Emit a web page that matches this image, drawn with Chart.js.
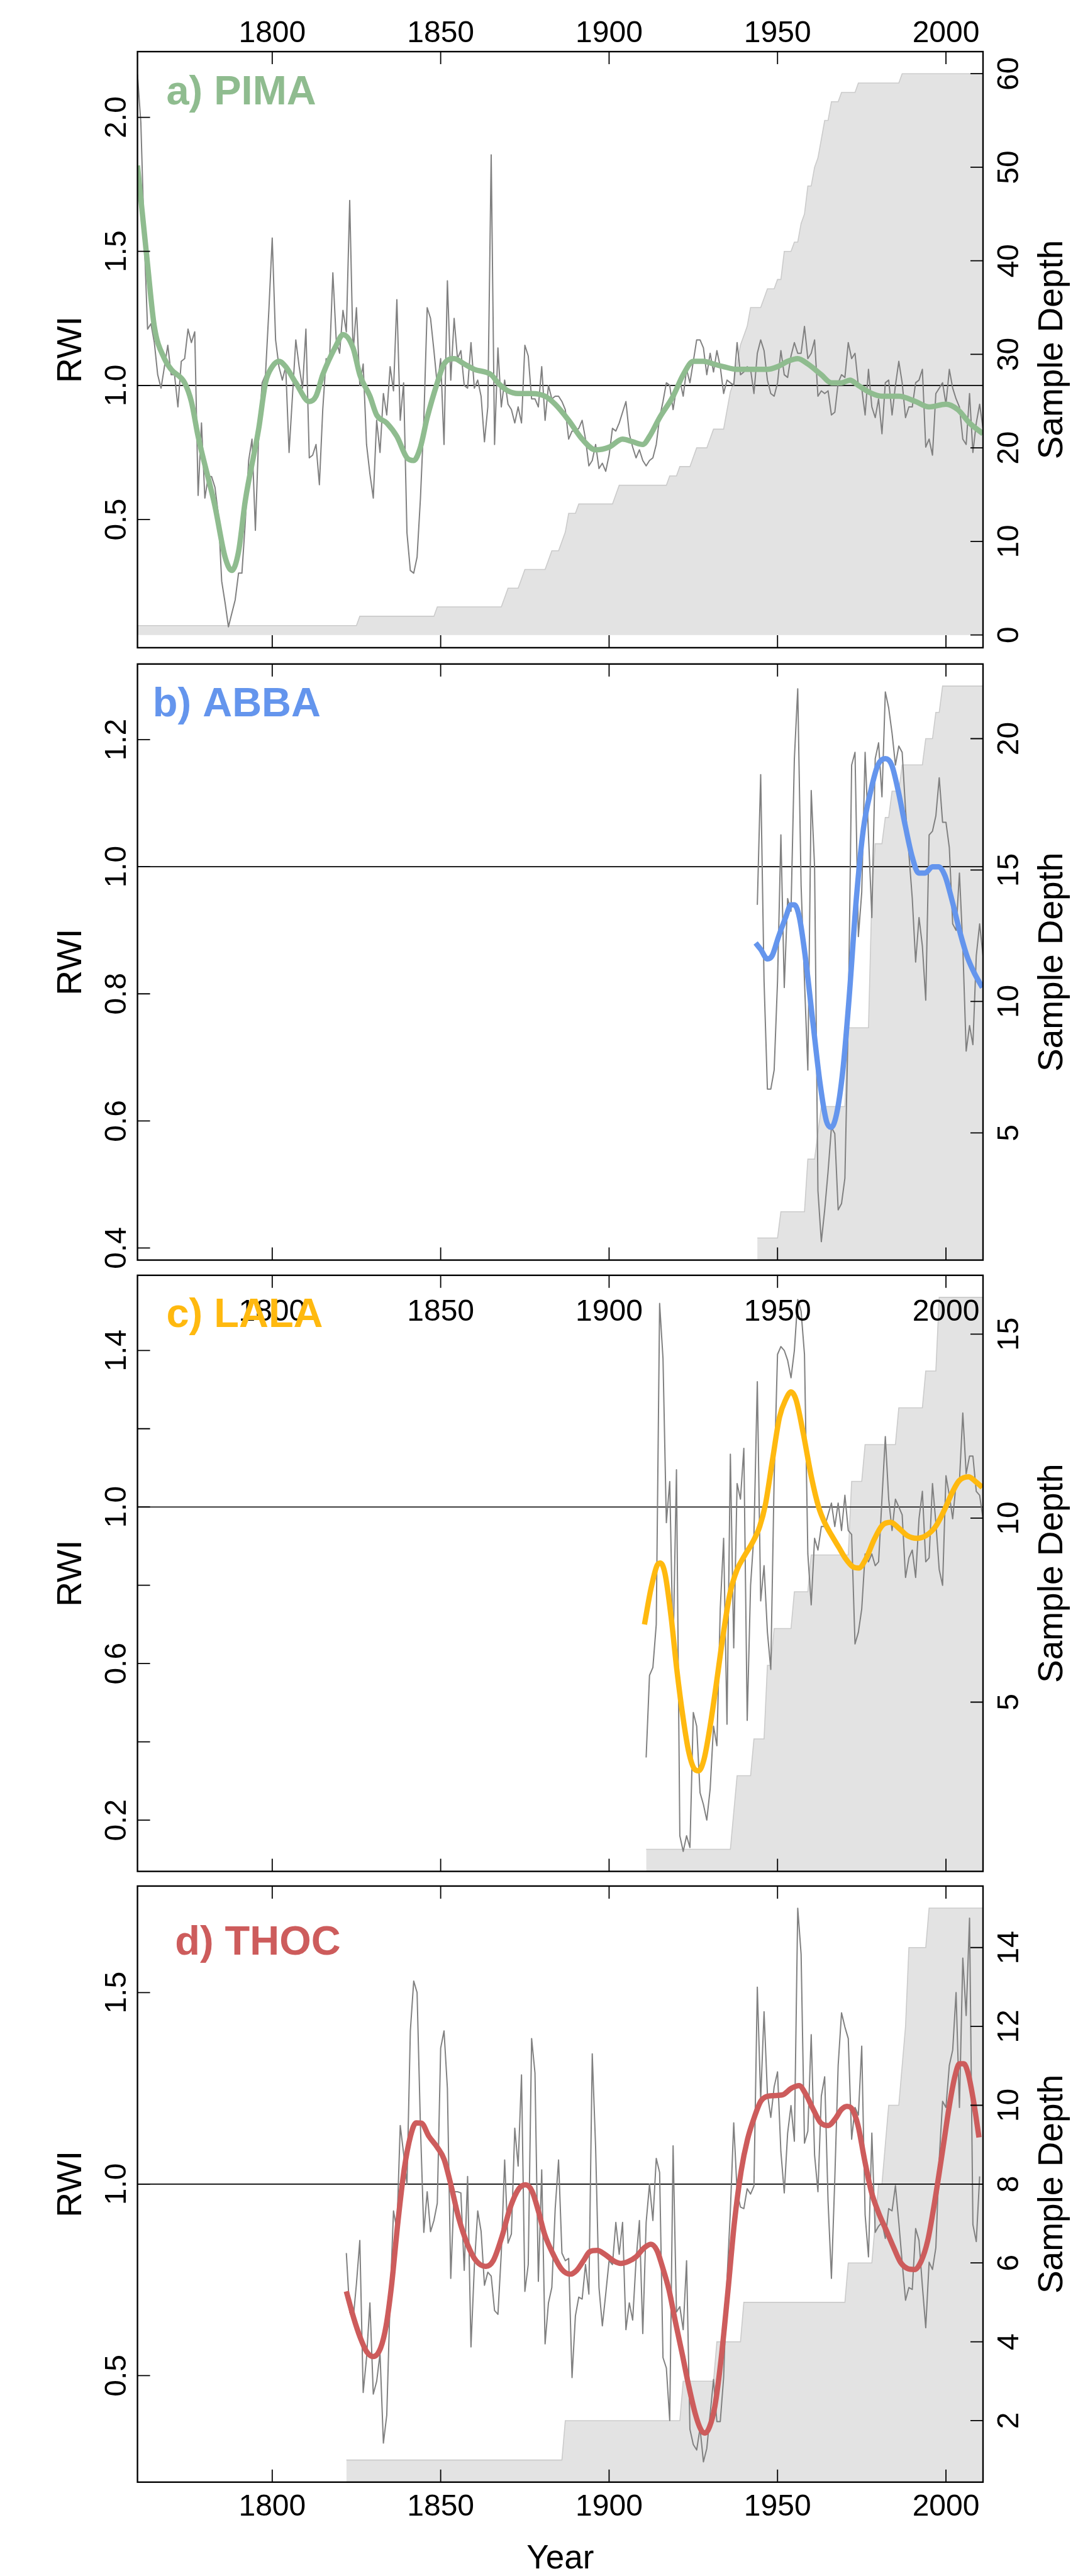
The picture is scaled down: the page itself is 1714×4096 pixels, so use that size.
<!DOCTYPE html>
<html><head><meta charset="utf-8">
<script src="https://cdn.jsdelivr.net/npm/chart.js@4.4.1/dist/chart.umd.min.js"></script>
<style>
html,body{margin:0;padding:0;background:#fff;}
#wrap{position:relative;width:1714px;height:4096px;overflow:hidden;background:#fff;}
#wrap canvas{position:absolute;left:0;}
</style></head>
<body><div id="wrap"></div>
<script>
// ---------------- DATA ----------------
const xTicks = [1800, 1850, 1900, 1950, 2000];
const xTickLabels = ['1800', '1850', '1900', '1950', '2000'];

// a) PIMA
const pimaStart = 1760;
const pimaRaw = [
2.16,1.98,1.55,1.21,1.23,1.16,1.04,0.99,1.07,1.15,
1.04,1.04,0.92,1.09,1.10,1.21,1.16,1.20,0.59,0.86,
0.58,0.66,0.66,0.62,0.52,0.27,0.19,0.10,0.15,0.20,
0.30,0.30,0.49,0.72,0.80,0.46,0.82,1.01,1.04,1.28,
1.55,1.17,1.07,1.02,1.07,0.75,0.96,1.17,1.07,0.99,
1.21,0.73,0.74,0.78,0.63,0.91,1.10,1.09,1.42,1.17,
1.12,1.28,1.20,1.69,1.12,1.29,1.00,1.08,0.78,0.67,
0.58,0.87,0.75,0.97,0.89,1.07,0.98,1.32,0.87,1.01,
0.45,0.31,0.30,0.36,0.58,0.87,1.29,1.25,1.13,1.00,
1.10,0.78,1.39,1.02,1.25,1.10,1.13,1.00,0.99,1.16,
0.99,1.02,0.96,0.79,0.92,1.86,0.78,1.14,0.92,1.02,
0.93,0.91,0.86,0.92,0.86,1.15,1.11,0.95,0.95,0.92,
1.07,0.87,1.00,0.95,0.96,0.96,0.94,0.91,0.80,0.83,
0.83,0.84,0.87,0.80,0.70,0.72,0.78,0.69,0.71,0.68,
0.74,0.84,0.83,0.86,0.90,0.94,0.82,0.77,0.73,0.76,
0.72,0.70,0.72,0.73,0.78,0.88,0.94,1.01,1.00,0.91,
0.99,1.02,0.96,1.06,1.01,1.09,1.17,1.17,1.14,1.04,
1.12,1.05,1.13,1.07,0.97,1.02,1.01,1.00,1.16,1.04,
1.05,1.07,1.06,0.97,1.12,1.17,1.13,1.02,0.97,0.96,
1.01,1.13,1.04,1.03,1.11,1.16,1.12,1.12,1.22,1.10,
1.12,1.17,0.96,0.98,0.97,0.98,0.89,0.90,1.01,1.04,
1.03,1.16,1.10,1.12,1.00,0.99,0.89,1.06,0.92,0.88,
0.95,0.82,1.01,1.02,0.89,1.00,1.09,1.01,0.88,0.92,
0.92,1.01,1.02,1.06,0.77,0.80,0.74,0.97,0.99,1.01,
0.93,1.06,0.99,0.95,0.92,0.80,0.78,0.97,0.75,0.86,
0.93,0.84];
const pimaSmoothYears = [1760,1763,1765,1768,1770,1774,1776,1778,1783,1786,1788,1790,1792,1796,1798,1800,1802,1804,1807,1811,1813,1815,1819,1821,1824,1826,1829,1831,1834,1837,1840,1842,1844,1846,1849,1851,1854,1857,1860,1865,1867,1870,1873,1877,1881,1884,1888,1892,1896,1900,1904,1907,1910,1912,1915,1919,1922,1925,1928,1931,1934,1938,1942,1947,1950,1953,1956,1959,1963,1966,1969,1971.5,1974,1978,1981,1986,1991,1995,2000,2003.5,2007,2011];
const pimaSmoothVals = [1.82,1.45,1.22,1.10,1.06,1.01,0.94,0.81,0.55,0.36,0.31,0.38,0.57,0.84,1.01,1.07,1.09,1.07,1.01,0.94,0.96,1.04,1.15,1.19,1.14,1.04,0.96,0.89,0.86,0.81,0.73,0.72,0.77,0.88,1.01,1.08,1.10,1.08,1.06,1.04,1.01,0.98,0.97,0.97,0.96,0.93,0.87,0.80,0.76,0.77,0.80,0.79,0.78,0.81,0.88,0.96,1.04,1.09,1.09,1.08,1.07,1.06,1.06,1.06,1.07,1.09,1.10,1.08,1.04,1.01,1.01,1.02,1.00,0.97,0.96,0.96,0.94,0.92,0.93,0.91,0.86,0.82];
const pimaDepthYears = [1760,1826,1849,1869,1870,1874,1875,1882,1883,1886,1887,1888,1891,1902,1903,1918,1921,1925,1926,1930,1931,1935,1936,1937,1938,1939,1940,1941,1942,1946,1947,1950,1952,1955,1957,1958,1959,1961,1962,1963,1964,1966,1969,1974,1987];
const pimaDepthVals  = [1,2,3,4,5,6,7,8,9,10,11,13,14,15,16,17,18,19,20,21,22,24,26,27,29,31,32,33,35,36,37,38,41,42,44,45,48,50,51,53,55,57,58,59,60];

// b) ABBA
const abbaStart = 1944;
const abbaRaw = [
0.94,1.145,0.82,0.65,0.65,0.68,0.82,1.05,0.81,0.95,
0.93,1.17,1.28,0.97,0.82,0.68,1.12,1.00,0.49,0.41,
0.46,0.52,0.59,0.58,0.46,0.47,0.51,0.76,1.16,1.18,
0.89,0.96,1.18,1.05,0.92,1.17,1.195,1.11,1.275,1.25,
1.21,1.16,1.19,1.18,1.09,1.02,0.95,0.85,0.92,0.875,
0.79,1.05,1.056,1.08,1.14,1.07,1.07,1.03,0.91,0.90,
0.99,0.875,0.71,0.75,0.72,0.86,0.91,0.86];
const abbaSmoothYears = [1943.5,1945,1947,1948.4,1950.3,1952.4,1954,1955,1956.5,1958.3,1960.5,1962.6,1964.5,1965.9,1967.5,1969.4,1971.2,1973.4,1975.5,1977.7,1979.8,1982,1983.9,1985.8,1987.9,1990,1991.9,1993.8,1996,1997.8,1999.7,2001.9,2004,2006.2,2008.3,2010.8];
const abbaSmoothVals = [0.88,0.87,0.855,0.86,0.89,0.92,0.94,0.94,0.92,0.856,0.755,0.66,0.60,0.59,0.61,0.68,0.79,0.95,1.06,1.12,1.16,1.17,1.16,1.12,1.065,1.015,0.99,0.99,1.0,1.0,0.986,0.945,0.90,0.86,0.834,0.81];
const abbaDepthYears = [1944,1951,1959,1962,1963,1971,1978,1979,1982,1984,1987,1994,1997,1999];
const abbaDepthVals  = [1,2,4,5,6,9,14,16,17,18,19,20,21,22];

// c) LALA
const lalaStart = 1911;
const lalaRaw = [
0.36,0.57,0.59,0.70,1.52,1.38,0.96,1.065,0.63,1.095,
0.16,0.12,0.16,0.13,0.475,0.44,0.27,0.24,0.20,0.28,
0.44,0.39,0.74,0.92,0.445,1.135,0.64,1.06,1.02,1.15,
0.455,0.80,0.93,1.32,0.76,0.85,0.68,0.585,1.075,1.39,
1.41,1.40,1.375,1.33,1.40,1.53,1.50,1.39,0.88,0.75,
0.92,0.89,0.95,0.95,0.98,1.01,0.95,1.01,0.94,1.03,
0.94,0.93,0.65,0.68,0.74,0.88,0.86,0.88,0.85,0.86,
1.02,1.18,1.02,0.94,1.02,1.00,0.98,0.82,0.87,0.89,
0.82,0.97,1.04,0.86,0.87,1.06,0.96,0.84,0.80,1.08,
1.03,0.97,1.06,1.065,1.24,1.085,1.13,1.13,1.04,1.03,
0.97];
const lalaSmoothYears = [1910.5,1912.4,1914.2,1915.2,1916.6,1918.4,1920.1,1921.9,1923.6,1925.4,1926.6,1928.2,1929.9,1931.7,1933.8,1935.9,1938,1940.1,1942.6,1944.7,1946.4,1948.5,1950.6,1952.4,1954,1955.5,1957.6,1960.1,1962.2,1964,1966.1,1968.2,1970.3,1972.4,1974.1,1976.2,1978.7,1981.1,1983.6,1986,1988.5,1991.3,1994.1,1996.9,1999.4,2001.8,2003.9,2006.7,2008.8,2010.8];
const lalaSmoothVals = [0.70,0.79,0.85,0.857,0.83,0.72,0.585,0.465,0.376,0.33,0.326,0.356,0.435,0.54,0.67,0.78,0.84,0.874,0.91,0.95,1.006,1.12,1.23,1.274,1.294,1.274,1.19,1.075,1.0,0.96,0.927,0.897,0.867,0.847,0.844,0.867,0.917,0.953,0.961,0.946,0.927,0.92,0.927,0.95,0.99,1.036,1.067,1.077,1.065,1.05];
const lalaDepthYears = [1911,1937,1938,1943,1947,1949,1955,1960,1972,1976,1986,1994,1998];
const lalaDepthVals  = [1,2,3,4,6,7,8,9,11,12,13,14,16];

// d) THOC
const thocStart = 1822;
const thocRaw = [
0.82,0.666,0.645,0.74,0.853,0.456,0.547,0.69,
0.452,0.485,0.557,0.324,0.397,0.70,0.93,0.88,1.153,1.08,
1.00,1.40,1.53,1.50,1.15,0.874,0.98,0.876,0.905,0.95,
1.355,1.40,1.25,0.754,0.98,0.98,0.977,0.775,1.02,0.575,
0.785,0.93,0.877,0.736,0.77,0.76,0.67,0.66,0.82,1.063,
0.846,0.87,1.146,1.047,1.285,0.72,0.79,1.38,1.29,0.746,
1.037,0.583,0.69,0.73,0.936,1.063,0.82,0.80,0.806,0.495,
0.656,0.705,0.70,0.79,0.713,1.34,1.096,0.73,0.63,0.713,
0.80,0.79,0.90,0.817,0.90,0.62,0.69,0.645,0.80,0.905,
0.61,0.90,1.0,0.905,1.067,1.03,0.547,0.52,0.383,1.10,
0.666,0.68,0.62,0.80,0.36,0.32,0.306,0.363,0.275,0.31,
0.40,0.49,0.38,0.38,0.495,0.75,0.93,1.16,0.98,0.94,
0.936,0.988,0.974,0.995,1.514,1.22,1.45,1.236,1.174,1.254,
1.293,1.084,0.977,1.133,1.205,1.112,1.72,1.60,1.107,1.138,
1.39,1.076,0.98,1.23,1.28,0.956,0.754,1.013,1.31,1.447,
1.41,1.38,1.117,1.20,1.18,1.36,0.92,0.81,1.133,0.874,
0.89,0.90,0.858,0.936,0.93,0.996,0.90,0.796,0.697,0.73,
0.725,0.884,0.853,0.734,0.625,0.796,0.777,0.834,1.065,1.216,
1.20,1.31,1.35,1.50,1.20,1.59,1.44,1.694,0.894,0.85,
1.02];
const thocSmoothYears = [1822,1824.2,1826.1,1828,1830,1832.2,1833.8,1835.4,1837.3,1839.2,1841.1,1842.7,1844.3,1846.5,1849,1851,1852.9,1855.4,1858,1860.5,1863.4,1865.6,1868.2,1870.7,1873.2,1875.2,1877.1,1879,1880.9,1883.4,1886,1888.5,1890.4,1892.4,1894.3,1896.5,1898.7,1901.3,1903.5,1905.7,1908,1910.2,1912.4,1914.2,1915.8,1917.8,1919.7,1921.7,1923.6,1925.6,1927.2,1928.5,1929.8,1931.4,1933.3,1935.3,1937.2,1939.2,1941.1,1943.1,1945,1946.6,1948.9,1951.5,1954.1,1956.4,1958.3,1960.6,1962.8,1965.1,1967.1,1969,1970.6,1972.2,1973.9,1975.8,1977.8,1980,1982.3,1984.6,1986.5,1988.5,1990.7,1992.7,1994.6,1996.2,1997.9,1999.5,2001.1,2002.7,2004,2005.3,2006.6,2008.2,2009.8];
const thocSmoothVals = [0.72,0.65,0.60,0.563,0.55,0.573,0.63,0.734,0.90,1.04,1.127,1.16,1.159,1.125,1.096,1.065,1.003,0.91,0.842,0.80,0.785,0.80,0.863,0.94,0.988,0.998,0.982,0.93,0.868,0.817,0.777,0.765,0.775,0.80,0.824,0.827,0.817,0.80,0.793,0.798,0.81,0.832,0.843,0.827,0.785,0.723,0.64,0.557,0.475,0.40,0.36,0.35,0.366,0.42,0.547,0.723,0.90,1.034,1.117,1.174,1.216,1.228,1.231,1.233,1.25,1.257,1.236,1.195,1.16,1.153,1.17,1.195,1.203,1.195,1.153,1.065,0.982,0.925,0.879,0.832,0.796,0.78,0.777,0.80,0.853,0.93,1.024,1.117,1.21,1.283,1.314,1.314,1.288,1.216,1.122];
const thocDepthYears = [1822,1887,1922,1932,1940,1971,1979,1980,1982,1983,1987,1988,1989,1995];
const thocDepthVals  = [1,2,3,4,5,6,7,8,9,10,11,12,14,15];

const depthEndYear = 2011;

// axis ticks / labels
const pimaRwiTicks = [0.5,1.0,1.5,2.0];   const pimaRwiLabels = ['0.5','1.0','1.5','2.0'];
const pimaDepthTicks = [0,10,20,30,40,50,60]; const pimaDepthLabels = ['0','10','20','30','40','50','60'];
const abbaRwiTicks = [0.4,0.6,0.8,1.0,1.2]; const abbaRwiLabels = ['0.4','0.6','0.8','1.0','1.2'];
const abbaDepthTicks = [5,10,15,20]; const abbaDepthLabels = ['5','10','15','20'];
const lalaRwiTicks = [0.2,0.4,0.6,0.8,1.0,1.2,1.4]; const lalaRwiLabels = ['0.2','','0.6','','1.0','','1.4'];
const lalaDepthTicks = [5,10,15]; const lalaDepthLabels = ['5','10','15'];
const thocRwiTicks = [0.5,1.0,1.5]; const thocRwiLabels = ['0.5','1.0','1.5'];
const thocDepthTicks = [2,4,6,8,10,12,14]; const thocDepthLabels = ['2','4','6','8','10','12','14'];

// ---------------- LAYOUT (reference px, scaled) ----------------
const S = 0.864, W = 1714, HH = 4096;
const PL = 253*S, PR = 1809*S, PH = 1097*S;
const FONT = '"Liberation Sans", Arial, Helvetica, sans-serif';

function rawPoints(start, arr){ return arr.map((v,i)=>({x:start+i, y:v})); }
function pairPoints(xs, ys){ return xs.map((x,i)=>({x:x, y:ys[i]})); }
function stepPoints(years, vals, end){
  const pts=[]; let k=0;
  for(let y=years[0]; y<=end; y++){ while(k+1<years.length && years[k+1]<=y) k++; pts.push({x:y, y:vals[k]}); }
  return pts;
}

const panels = [
 {name:'a) PIMA', color:'#8FBC8F', top:95, titleX:306, titleBase:192,
  raw:rawPoints(pimaStart,pimaRaw), smooth:pairPoints(pimaSmoothYears,pimaSmoothVals),
  depth:stepPoints(pimaDepthYears,pimaDepthVals,depthEndYear),
  yr:[0.022,2.245], dr:[-1.36,62.36], rt:pimaRwiTicks, rl:pimaRwiLabels, dt:pimaDepthTicks, dl:pimaDepthLabels, xlab:'top'},
 {name:'b) ABBA', color:'#6495ED', top:1222, titleX:281, titleBase:1318,
  raw:rawPoints(abbaStart,abbaRaw), smooth:pairPoints(abbaSmoothYears,abbaSmoothVals),
  depth:stepPoints(abbaDepthYears,abbaDepthVals,depthEndYear),
  yr:[0.381,1.319], dr:[0.16,22.84], rt:abbaRwiTicks, rl:abbaRwiLabels, dt:abbaDepthTicks, dl:abbaDepthLabels, xlab:null},
 {name:'c) LALA', color:'#FFB90F', top:2347, titleX:306, titleBase:2442,
  raw:rawPoints(lalaStart,lalaRaw), smooth:pairPoints(lalaSmoothYears,lalaSmoothVals),
  depth:stepPoints(lalaDepthYears,lalaDepthVals,depthEndYear),
  yr:[0.069,1.592], dr:[0.4,16.6], rt:lalaRwiTicks, rl:lalaRwiLabels, dt:lalaDepthTicks, dl:lalaDepthLabels, xlab:'inside'},
 {name:'d) THOC', color:'#CD5C5C', top:3471, titleX:322, titleBase:3597,
  raw:rawPoints(thocStart,thocRaw), smooth:pairPoints(thocSmoothYears,thocSmoothVals),
  depth:stepPoints(thocDepthYears,thocDepthVals,depthEndYear),
  yr:[0.222,1.778], dr:[0.44,15.56], rt:thocRwiTicks, rl:thocRwiLabels, dt:thocDepthTicks, dl:thocDepthLabels, xlab:'bottom'}
];

function rotText(ctx, txt, x, y){
  ctx.save(); ctx.translate(x,y); ctx.rotate(-Math.PI/2);
  ctx.textAlign='center'; ctx.textBaseline='alphabetic'; ctx.fillText(txt,0,0); ctx.restore();
}

const wrap = document.getElementById('wrap');
panels.forEach((p)=>{
  const top = p.top*S, bottom = top + PH;
  const cTop = Math.max(0, Math.floor(top - 90));
  const cBot = Math.min(HH, Math.ceil(bottom + 150));
  const cv = document.createElement('canvas');
  cv.width = W; cv.height = cBot - cTop;
  cv.style.top = cTop + 'px'; cv.style.width = W+'px'; cv.style.height = (cBot-cTop)+'px';
  wrap.appendChild(cv);

  const decor = {
    id:'decor',
    afterDatasetsDraw(chart){
      const ctx = chart.ctx, a = chart.chartArea;
      const xs = chart.scales.x, ys = chart.scales.y, ds = chart.scales.y2;
      const off = cTop;
      ctx.save();
      ctx.strokeStyle = '#000'; ctx.fillStyle = '#000';
      const TL = 20;
      // ticks
      ctx.lineWidth = 1.8; ctx.beginPath();
      xTicks.forEach(t=>{ const px = xs.getPixelForValue(t);
        ctx.moveTo(px, a.top); ctx.lineTo(px, a.top+TL);
        ctx.moveTo(px, a.bottom); ctx.lineTo(px, a.bottom-TL); });
      p.rt.forEach(t=>{ const py = ys.getPixelForValue(t); ctx.moveTo(a.left, py); ctx.lineTo(a.left+TL, py); });
      p.dt.forEach(t=>{ const py = ds.getPixelForValue(t); ctx.moveTo(a.right, py); ctx.lineTo(a.right-TL, py); });
      ctx.stroke();
      // box
      ctx.lineWidth = 2.4; ctx.strokeRect(a.left, a.top, a.right-a.left, a.bottom-a.top);
      // y tick labels (rotated)
      ctx.font = '48px ' + FONT;
      p.rt.forEach((t,i)=>{ if(p.rl[i]) rotText(ctx, p.rl[i], 200, ys.getPixelForValue(t)); });
      p.dt.forEach((t,i)=>{ if(p.dl[i]) rotText(ctx, p.dl[i], 1619, ds.getPixelForValue(t)); });
      // axis titles
      ctx.font = '55px ' + FONT;
      const mid = (a.top + a.bottom)/2;
      rotText(ctx, 'RWI', 129, mid);
      rotText(ctx, 'Sample Depth', 1689, mid);
      // x tick labels
      ctx.font = '48px ' + FONT; ctx.textAlign = 'center'; ctx.textBaseline = 'alphabetic';
      let base = null;
      if (p.xlab === 'top') base = 77*S - off;
      if (p.xlab === 'inside') base = 2430*S - off;
      if (p.xlab === 'bottom') base = 4630*S - off;
      if (base !== null) xTicks.forEach((t,i)=>{ ctx.fillText(xTickLabels[i], xs.getPixelForValue(t), base); });
      if (p.xlab === 'bottom') { ctx.font = '53px ' + FONT; ctx.fillText('Year', (a.left+a.right)/2, 4727*S - off); }
      // panel title
      ctx.font = 'bold 65px ' + FONT; ctx.textAlign = 'left'; ctx.fillStyle = p.color;
      ctx.fillText(p.name, p.titleX*S, p.titleBase*S - off);
      ctx.restore();
    }
  };

  new Chart(cv, {
    type: 'line',
    data: { datasets: [
      { label:'Sample depth', data:p.depth, yAxisID:'y2', order:4, fill:'origin',
        backgroundColor:'#E3E3E3', borderColor:'#CBCBCB', borderWidth:1.6, pointRadius:0, tension:0, clip:0 },
      { label:'1.0', data:[{x:1760,y:1},{x:2011,y:1}], yAxisID:'y', order:3,
        borderColor:'#000', borderWidth:1.7, pointRadius:0, fill:false, clip:0 },
      { label:'RWI', data:p.raw, yAxisID:'y', order:2, borderColor:'#808080', borderWidth:2,
        pointRadius:0, tension:0, fill:false, borderJoinStyle:'round', clip:0 },
      { label:'Smoothed', data:p.smooth, yAxisID:'y', order:1, borderColor:p.color, borderWidth:8.5,
        pointRadius:0, cubicInterpolationMode:'monotone', fill:false, borderCapStyle:'butt', borderJoinStyle:'round', clip:0 }
    ]},
    options: {
      responsive:false, animation:false, devicePixelRatio:1, events:[],
      layout:{ padding:{ left:PL, right:W-PR, top:top-cTop, bottom:cBot-bottom } },
      plugins:{ legend:{display:false}, tooltip:{enabled:false}, title:{display:false} },
      scales:{
        x:{ type:'linear', min:1760, max:2011, display:false },
        y:{ type:'linear', min:p.yr[0], max:p.yr[1], display:false },
        y2:{ type:'linear', position:'right', min:p.dr[0], max:p.dr[1], display:false }
      }
    },
    plugins:[decor]
  });
});
</script>
</body></html>
